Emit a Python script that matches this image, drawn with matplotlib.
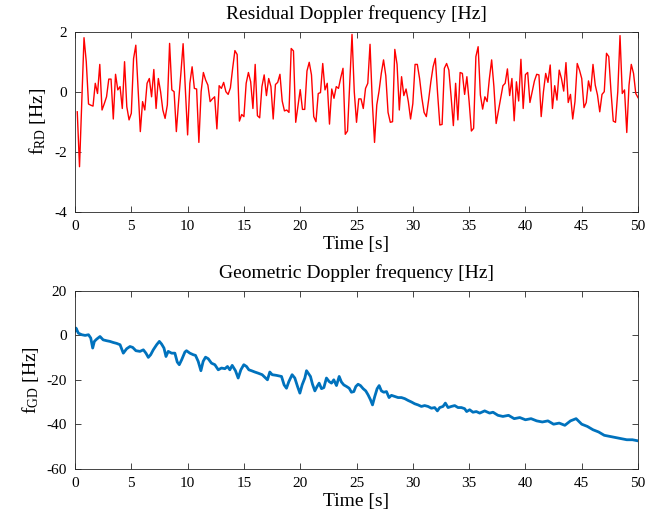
import numpy as np
import matplotlib
matplotlib.use('Agg')
import matplotlib.pyplot as plt

plt.rcParams['font.family'] = ['Liberation Serif', 'DejaVu Serif']
plt.rcParams['mathtext.fontset'] = 'custom'
plt.rcParams['mathtext.rm'] = 'Liberation Serif'
plt.rcParams['mathtext.it'] = 'Liberation Serif:italic'
plt.rcParams['axes.unicode_minus'] = False

# residual Doppler frequency, one sample every 0.2 s (0.2 ... 50 s)
rd_t = np.arange(1, 251) * 0.2
rd_v = [
    -0.67, -2.5, -0.3, 1.8, 1.0, -0.41, -0.45, -0.48, 0.28, -0.06,
    0.91, -0.61, -0.4, -0.17, 0.42, 0.42, -0.91, 0.58, 0.06, 0.17,
    -0.56, 1.0, -0.5, -0.94, -0.72, 1.1, 1.55, 0.1, -1.33, -0.33,
    -0.61, 0.28, 0.44, -0.17, 0.74, -0.56, 0.44, 0.0, -0.61, -0.89,
    -0.44, 1.61, 0.06, 0.0, -1.33, -0.33, 0.6, 1.6, 0.1, -1.44,
    0.28, 0.83, 0.11, 0.09, -1.69, 0.0, 0.64, 0.39, 0.22, -0.33,
    -0.24, -0.17, -1.24, 0.2, 0.11, 0.31, 0.0, -0.09, 0.13, 0.78,
    1.37, 1.24, -0.98, -0.76, -0.83, 0.28, 0.64, 0.33, -0.56, 0.91,
    -0.8, -0.87, 0.17, 0.56, -0.13, 0.44, 0.17, -0.91, 0.24, 0.31,
    0.58, -0.31, -0.64, -0.61, -0.69, 1.44, 1.36, -1.02, -0.47, 0.07,
    -0.59, -0.59, 0.69, 0.98, 0.56, -0.83, -1.0, -0.06, -0.03, 0.94,
    0.06, 0.28, -1.08, 0.09, -0.22, 0.17, 0.11, 0.47, 0.78, -1.42,
    -1.31, 0.33, 1.91, 0.0, -1.02, -0.24, -0.24, -0.56, 0.11, 0.28,
    1.58, -0.33, -1.69, -0.44, 0.02, 0.61, 1.06, 0.53, -0.69, -1.02,
    -1.0, 1.41, 0.91, -0.61, 0.5, -0.13, 0.09, -0.33, -0.91, -0.4,
    0.91, 0.91, 0.44, -0.2, -0.69, -0.83, -0.28, 0.33, 0.83, 1.11,
    -0.06, -1.11, -1.09, 0.78, 0.94, 0.72, -0.17, -1.13, 0.28, -0.94,
    0.64, 0.61, -0.09, 0.5, -0.33, -1.31, -1.22, 1.17, 1.5, -0.11,
    -0.58, -0.17, -0.33, 0.44, 1.06, 0.17, -1.06, -0.64, -0.22, 0.2,
    0.28, 0.76, -0.13, 0.44, -0.97, 0.33, -0.31, 1.08, -0.56, 0.57,
    0.64, -0.36, 0.0, 0.36, 0.58, 0.56, -0.83, 0.0, 0.61, 0.31,
    0.89, -0.56, 0.2, -0.28, 0.72, 0.44, 0.02, 0.97, -0.36, -0.09,
    -0.91, -0.33, 0.94, 0.72, 0.44, -0.53, -0.36, 0.36, 0.02, 0.91,
    0.22, -0.11, -0.67, -0.09, 0.0, 1.28, 1.17, 0.0, -0.98, -1.02,
    0.0, 1.87, -0.06, 0.06, -1.36, 0.22, 0.91, 0.61, -0.06, -0.2,
]

# geometric Doppler frequency
gd_t = [0.0, 0.09, 0.3, 0.6, 0.9, 1.2, 1.4, 1.57, 1.72, 1.92, 2.22, 2.5, 2.81, 3.1, 3.4,
        3.7, 4.0, 4.29, 4.59, 4.88, 5.12, 5.41, 5.77, 6.07, 6.3, 6.51, 6.72, 6.95, 7.25,
        7.49, 7.69, 7.9, 8.08, 8.28, 8.58, 8.87, 9.08, 9.26, 9.47, 9.76, 9.9, 10.2, 10.5,
        10.7, 10.94, 11.18, 11.38, 11.59, 11.83, 12.12, 12.42, 12.72, 13.01, 13.31, 13.54,
        13.75, 13.96, 14.25, 14.49, 14.73, 14.99, 15.23, 15.44, 15.67, 15.97, 16.26, 16.62,
        16.86, 17.09, 17.3, 17.51, 17.89, 18.34, 18.57, 18.78, 18.99, 19.28, 19.52, 19.76,
        19.97, 20.17, 20.41, 20.56, 20.71, 20.91, 21.09, 21.3, 21.5, 21.68, 21.89, 22.1,
        22.33, 22.57, 22.78, 22.98, 23.22, 23.46, 23.66, 23.87, 24.11, 24.35, 24.55, 24.76,
        24.94, 25.14, 25.35, 25.59, 25.82, 26.03, 26.24, 26.42, 26.62, 26.83, 27.01, 27.21,
        27.42, 27.66, 27.89, 28.1, 28.4, 28.69, 28.99, 29.29, 29.58, 29.88, 30.17, 30.46,
        30.76, 31.05, 31.35, 31.65, 31.94, 32.18, 32.39, 32.68, 32.89, 33.13, 33.42, 33.72,
        34.01, 34.31, 34.6, 34.78, 35.05, 35.34, 35.64, 35.94, 36.38, 36.82, 37.12, 37.56,
        38.0, 38.5, 39.0, 39.5, 40.0, 40.5, 41.0, 41.5, 42.0, 42.5, 43.0, 43.5, 44.0, 44.5,
        45.0, 45.5, 46.0, 46.5, 47.0, 47.5, 48.0, 48.5, 49.0, 49.5, 50.0]
gd_v = [2.0, 3.3, 1.0, 0.3, 0.0, 0.3, -1.2, -5.7, -2.7, -1.7, -0.5, -2.0, -2.4, -2.7, -3.2,
        -3.6, -4.2, -8.0, -6.0, -5.0, -5.4, -6.9, -7.2, -6.5, -8.0, -9.9, -8.7, -6.5, -4.2,
        -2.7, -3.9, -5.7, -9.5, -7.2, -8.0, -8.0, -12.0, -13.2, -11.0, -7.5, -6.9, -8.0, -8.7,
        -9.0, -11.7, -15.9, -11.7, -9.8, -10.5, -12.5, -13.2, -15.5, -14.7, -15.0, -14.0,
        -15.5, -13.5, -15.9, -19.2, -15.5, -13.2, -14.0, -15.5, -15.9, -16.5, -17.0, -17.7,
        -18.9, -20.0, -16.5, -17.7, -18.0, -18.5, -22.3, -23.8, -20.8, -17.7, -19.2, -23.0,
        -26.0, -22.3, -19.2, -15.9, -17.0, -18.5, -22.0, -25.0, -23.0, -21.5, -24.0, -23.5,
        -19.2, -20.8, -21.5, -20.0, -22.6, -18.5, -21.0, -22.3, -23.0, -23.8, -25.6, -25.3,
        -23.0, -22.0, -22.6, -24.0, -25.0, -26.8, -29.0, -31.3, -27.5, -24.0, -22.6, -25.0,
        -25.6, -25.3, -28.0, -27.0, -27.5, -28.0, -28.0, -28.5, -29.3, -30.0, -30.8, -31.3,
        -32.0, -31.6, -32.0, -32.8, -32.5, -34.0, -32.5, -32.0, -30.5, -32.5, -32.0, -31.6,
        -32.5, -32.5, -33.0, -34.3, -33.5, -34.6, -34.3, -35.0, -34.0, -35.0, -34.6, -36.0,
        -36.5, -36.0, -37.5, -37.0, -38.0, -37.5, -38.5, -39.0, -38.5, -40.0, -39.5, -40.5,
        -38.5, -37.5, -40.0, -41.0, -42.5, -43.5, -45.0, -45.5, -46.0, -46.5, -47.0, -47.0,
        -47.5]

xticks = np.arange(0, 51, 5)


def style(ax):
    ax.tick_params(direction='in', top=True, right=True, labelsize=11,
                   color='0.15', width=0.6, length=4, pad=6)
    for s in ax.spines.values():
        s.set_color('0.15'); s.set_linewidth(0.6)
    ax.set_xlim(0, 50); ax.set_xticks(xticks)


fig = plt.figure(figsize=(6.62, 5.23), dpi=100)
ax1 = fig.add_axes([0.1133, 0.5952, 0.8505, 0.3442])
ax2 = fig.add_axes([0.1133, 0.1040, 0.8505, 0.3396])

ax1.plot(rd_t, rd_v, color='#FF0000', lw=1.0)
style(ax1)
ax1.set_ylim(-4, 2); ax1.set_yticks([-4, -2, 0, 2])
ax1.set_title('Residual Doppler frequency [Hz]', fontsize=14, pad=9)
ax1.set_xlabel('Time [s]', fontsize=14, labelpad=2)
ax1.set_ylabel(r'f$_{\rm RD}$ [Hz]', fontsize=14, labelpad=4)

ax2.plot(gd_t, gd_v, color='#0072BD', lw=2.0)
style(ax2)
ax2.set_ylim(-60, 20); ax2.set_yticks([-60, -40, -20, 0, 20])
ax2.set_title('Geometric Doppler frequency [Hz]', fontsize=14, pad=9)
ax2.set_xlabel('Time [s]', fontsize=14, labelpad=2)
ax2.set_ylabel(r'f$_{\rm GD}$ [Hz]', fontsize=14, labelpad=4)

fig.savefig('out.png', dpi=100)
